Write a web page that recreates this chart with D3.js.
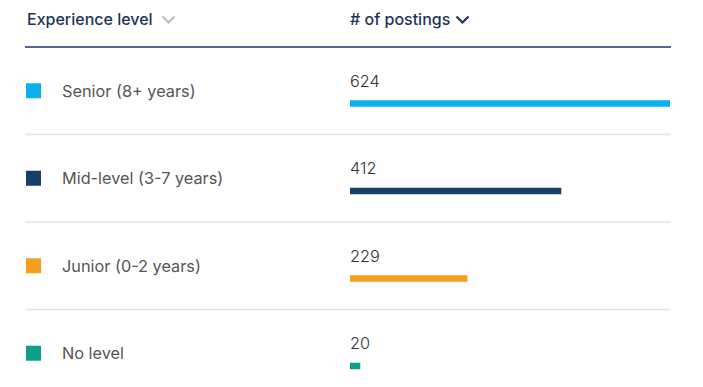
<!DOCTYPE html>
<html>
<head>
<meta charset="utf-8">
<script src="https://cdn.jsdelivr.net/npm/d3@7"></script>
<style>
  html, body { margin: 0; padding: 0; background: #fff; }
  svg { display: block; }
</style>
</head>
<body>
<svg id="chart" width="703" height="387"></svg>
<script>
const categories = ["Senior (8+ years)", "Mid-level (3-7 years)", "Junior (0-2 years)", "No level"];
const postings = [624, 412, 229, 20];
const colors = ["#0bb0ef", "#163e66", "#f59f1e", "#0d9e8c"];
const headers = ["Experience level", "# of postings"];

const svg = d3.select("#chart");
const font = "Inter, 'Open Sans', sans-serif";

const left = 25, right = 671, headerLine = 47, rowH = 87.5;
const barX = 350;

const y = d3.scaleBand()
  .domain(categories)
  .range([headerLine, headerLine + rowH * categories.length])
  .paddingInner(0).paddingOuter(0);

const x = d3.scaleLinear()
  .domain([0, d3.max(postings)])
  .range([0, 320]);

// Header text
svg.append("text")
  .attr("x", 27).attr("y", 25)
  .attr("font-family", font).attr("font-size", 16).attr("font-weight", 500)
  .attr("fill", "#1d3557")
  .text(headers[0]);
svg.append("text")
  .attr("x", barX).attr("y", 25)
  .attr("font-family", font).attr("font-size", 16).attr("font-weight", 500)
  .attr("fill", "#1d3557")
  .text(headers[1]);

// chevrons
function chevron(cx, color) {
  svg.append("path")
    .attr("d", `M${cx - 6},${16.5} L${cx},${22.5} L${cx + 6},${16.5}`)
    .attr("fill", "none")
    .attr("stroke", color)
    .attr("stroke-width", 2.2);
}
chevron(168.5, "#b9bec6");
chevron(462.5, "#1d3557");

// header line
svg.append("line")
  .attr("x1", left).attr("x2", right)
  .attr("y1", headerLine).attr("y2", headerLine)
  .attr("stroke", "#56698a").attr("stroke-width", 2);

const rows = svg.selectAll("g.row")
  .data(categories)
  .join("g")
  .attr("class", "row")
  .attr("transform", d => `translate(0,${y(d)})`);

const mid = y.bandwidth() / 2;

rows.filter((d, i) => i < categories.length - 1)
  .append("line")
  .attr("x1", left).attr("x2", right)
  .attr("y1", y.bandwidth()).attr("y2", y.bandwidth())
  .attr("stroke", "#e3e3e3").attr("stroke-width", 1.5);

rows.append("rect")
  .attr("x", 26).attr("y", mid - 7.5)
  .attr("width", 15).attr("height", 15)
  .attr("fill", (d, i) => colors[i]);

rows.append("text")
  .attr("x", 62).attr("y", mid + 6)
  .attr("font-family", font).attr("font-size", 16.3)
  .attr("fill", "#555")
  .text(d => d);

rows.append("text")
  .attr("x", barX).attr("y", mid - 4)
  .attr("font-family", font).attr("font-size", 16.3).attr("font-weight", 300)
  .attr("fill", "#333")
  .text((d, i) => postings[i]);

rows.append("rect")
  .attr("x", barX).attr("y", mid + 9.5)
  .attr("width", (d, i) => x(postings[i]))
  .attr("height", 6.5)
  .attr("fill", (d, i) => colors[i]);
</script>
</body>
</html>
